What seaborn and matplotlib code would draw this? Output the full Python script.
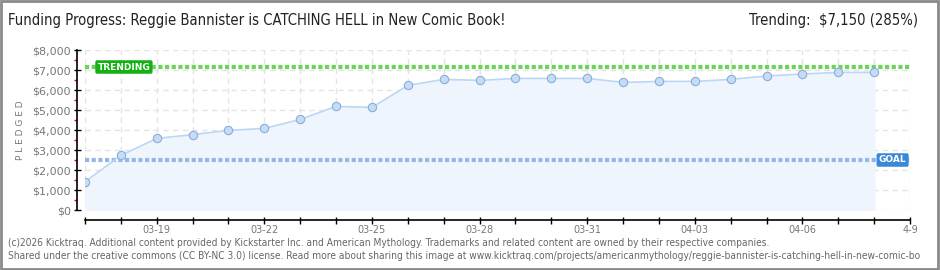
import matplotlib
matplotlib.use("Agg")
import matplotlib.pyplot as plt
import seaborn as sns
import numpy as np
import pandas as pd
from matplotlib.patches import Rectangle

# ---- data ----
dates = ["03-17", "03-18", "03-19", "03-20", "03-21", "03-22", "03-23", "03-24",
         "03-25", "03-26", "03-27", "03-28", "03-29", "03-30", "03-31", "04-01",
         "04-02", "04-03", "04-04", "04-05", "04-06", "04-07", "04-08"]
pledged = [1415, 2730, 3580, 3770, 3980, 4080, 4530, 5180, 5130, 6230, 6530, 6480,
           6580, 6580, 6580, 6380, 6430, 6430, 6530, 6700, 6800, 6880, 6880]
goal = 2500
trending = 7150
x_tick_labels = ["", "", "03-19", "", "", "03-22", "", "", "03-25", "", "", "03-28",
                 "", "", "03-31", "", "", "04-03", "", "", "04-06", "", "", "4-9"]
y_ticks = [0, 1000, 2000, 3000, 4000, 5000, 6000, 7000, 8000]
y_tick_labels = ["$0", "$1,000", "$2,000", "$3,000", "$4,000", "$5,000", "$6,000", "$7,000", "$8,000"]

title = "Funding Progress: Reggie Bannister is CATCHING HELL in New Comic Book!"
trend_text = "Trending:  $7,150 (285%)"
footer1 = ("(c)2026 Kicktraq. Additional content provided by Kickstarter Inc. and American Mythology. "
           "Trademarks and related content are owned by their respective companies.")
footer2 = ("Shared under the creative commons (CC BY-NC 3.0) license. Read more about sharing this image at "
           "www.kicktraq.com/projects/americanmythology/reggie-bannister-is-catching-hell-in-new-comic-bo")

df = pd.DataFrame({"day": np.arange(len(dates)), "pledged": pledged})

sns.set_theme(style="white")
plt.rcParams["font.family"] = ["DejaVu Sans"]

W, H = 940, 270
PX = 72 / 100  # points per pixel
fig = plt.figure(figsize=(W / 100, H / 100), dpi=100)
fig.patch.set_facecolor("white")
fig.patches.append(Rectangle((0.001, 0.002), 0.997, 0.995, transform=fig.transFigure,
                             fill=False, edgecolor="#8a8a8a", linewidth=2.0))

ax = fig.add_axes([85 / W, (H - 210) / H, (910 - 85) / W, 160 / H])
ax.set_facecolor("white")
ax.set_xlim(0, 23)
ax.set_ylim(0, 8000)

# grid
ax.set_xticks(np.arange(24))
ax.set_yticks(y_ticks)
ax.grid(True, color="#e4e4e4", linestyle=(0, (4, 3)), linewidth=1)

# area + line
ax.fill_between(df["day"], df["pledged"], 0, color="#eef5fd", zorder=1)
sns.lineplot(data=df, x="day", y="pledged", ax=ax, color="#bcd7f5", linewidth=1.2,
             marker="o", markersize=6, markerfacecolor="#c4dcf8",
             markeredgecolor="#8eadd4", markeredgewidth=0.8, zorder=3)

# goal / trending lines
ax.axhline(trending, color="#6cd45a", linewidth=3, linestyle=(0, (1, 0.6)), zorder=2)
ax.axhline(goal, color="#94b8e4", linewidth=3, linestyle=(0, (1, 0.6)), zorder=2)

ax.text(0.35, trending, "TRENDING", color="white", fontsize=6.5, fontweight="bold",
        va="center", ha="left", zorder=5,
        bbox=dict(boxstyle="round,pad=0.25,rounding_size=0.2", fc="#14b014", ec="none"))
ax.text(22.9, goal, "GOAL", color="white", fontsize=6.5, fontweight="bold",
        va="center", ha="right", zorder=5,
        bbox=dict(boxstyle="round,pad=0.25,rounding_size=0.2", fc="#3a88d8", ec="none"))

# spines
for s in ["top", "right"]:
    ax.spines[s].set_visible(False)
ax.spines["left"].set_position(("outward", 8 * PX))
ax.spines["bottom"].set_position(("outward", 10 * PX))
for s in ["left", "bottom"]:
    ax.spines[s].set_color("black")
    ax.spines[s].set_linewidth(1.2)

ax.set_xticklabels(x_tick_labels)
ax.set_yticklabels(y_tick_labels)
ax.tick_params(axis="both", which="both", bottom=True, left=True)
ax.tick_params(axis="x", direction="inout", length=7 * PX, width=1, color="black",
               labelsize=7, labelcolor="#777777", pad=1)
ax.tick_params(axis="y", direction="inout", length=7 * PX, width=1, color="black",
               labelsize=8, labelcolor="#777777", pad=2)
ax.set_yticks(np.arange(500, 8000, 1000), minor=True)
ax.tick_params(axis="y", which="minor", direction="out", length=3 * PX, width=1, color="#dd0000")

ax.set_xlabel("")
ax.set_ylabel("P L E D G E D", fontsize=6.5, color="#777777", labelpad=5)

cond = dict(family=["DejaVu Sans"], fontstretch="condensed")
fig.text(8 / W, 1 - 21 / H, title, fontsize=10.6, color="#222222", va="center", ha="left", **cond)
fig.text(918 / W, 1 - 21 / H, trend_text, fontsize=10.6, color="#222222", va="center", ha="right", **cond)
fig.text(8 / W, 1 - 243 / H, footer1, fontsize=7.3, color="#666666", va="center", ha="left", **cond)
fig.text(8 / W, 1 - 256 / H, footer2, fontsize=7.3, color="#666666", va="center", ha="left", **cond)

fig.savefig("out.png", dpi=100, facecolor="white")
